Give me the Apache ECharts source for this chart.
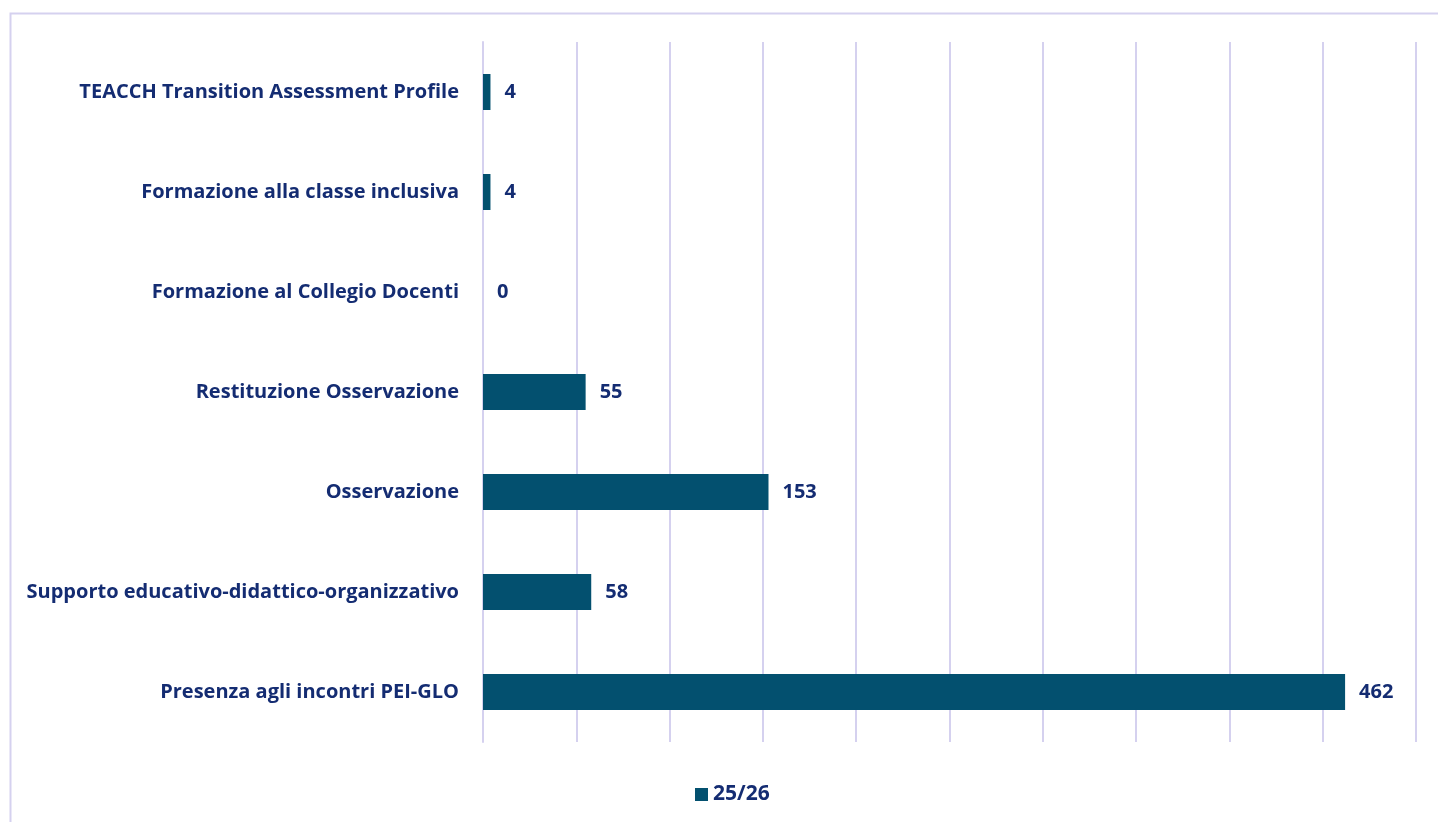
<!DOCTYPE html>
<html>
<head>
<meta charset="utf-8">
<script src="https://cdn.jsdelivr.net/npm/echarts@6/dist/echarts.min.js"></script>
<style>
html,body{margin:0;padding:0;background:#fff;}
#chart{width:1438px;height:822px;}
</style>
</head>
<body>
<div id="chart"></div>
<script>
const categories = [
  "Presenza agli incontri PEI-GLO",
  "Supporto educativo-didattico-organizzativo",
  "Osservazione",
  "Restituzione Osservazione",
  "Formazione al Collegio Docenti",
  "Formazione alla classe inclusiva",
  "TEACCH Transition Assessment Profile"
];
const values2526 = [462, 58, 153, 55, 0, 4, 4];
const seriesName = "25/26";

const textColor = "#142c72";
const barColor = "#03506f";
const gridColor = "#d5d1ef";
const fontFamily = "'Open Sans', 'Noto Sans', sans-serif";

const chart = echarts.init(document.getElementById('chart'));
chart.setOption({
  animation: false,
  backgroundColor: '#fff',
  graphic: [{
    type: 'rect',
    shape: { x: 10.5, y: 13.5, width: 1460, height: 840 },
    style: { fill: 'none', stroke: gridColor, lineWidth: 2 },
    silent: true
  }],
  grid: { left: 483, right: 22, top: 42, bottom: 80, containLabel: false },
  xAxis: {
    type: 'value', min: 0, max: 500, interval: 50,
    axisLabel: { show: false },
    axisLine: { show: false },
    axisTick: { show: false },
    splitLine: { show: true, lineStyle: { color: gridColor, width: 2 } }
  },
  yAxis: {
    type: 'category',
    data: categories,
    axisLine: { show: true, lineStyle: { color: gridColor, width: 2 } },
    axisTick: { show: false },
    axisLabel: {
      margin: 24,
      color: textColor,
      fontFamily: fontFamily,
      fontWeight: 'bold',
      fontSize: 20
    }
  },
  legend: {
    data: [seriesName],
    top: 779,
    left: 690,
    itemWidth: 13,
    itemHeight: 13,
    itemGap: 6,
    icon: 'rect',
    textStyle: { color: textColor, fontFamily: fontFamily, fontWeight: 'bold', fontSize: 21 }
  },
  series: [{
    name: seriesName,
    type: 'bar',
    data: values2526,
    barWidth: '36%',
    itemStyle: { color: barColor },
    label: {
      show: true,
      position: 'right',
      distance: 14,
      color: textColor,
      fontFamily: fontFamily,
      fontWeight: 'bold',
      fontSize: 20
    }
  }]
});
</script>
</body>
</html>
